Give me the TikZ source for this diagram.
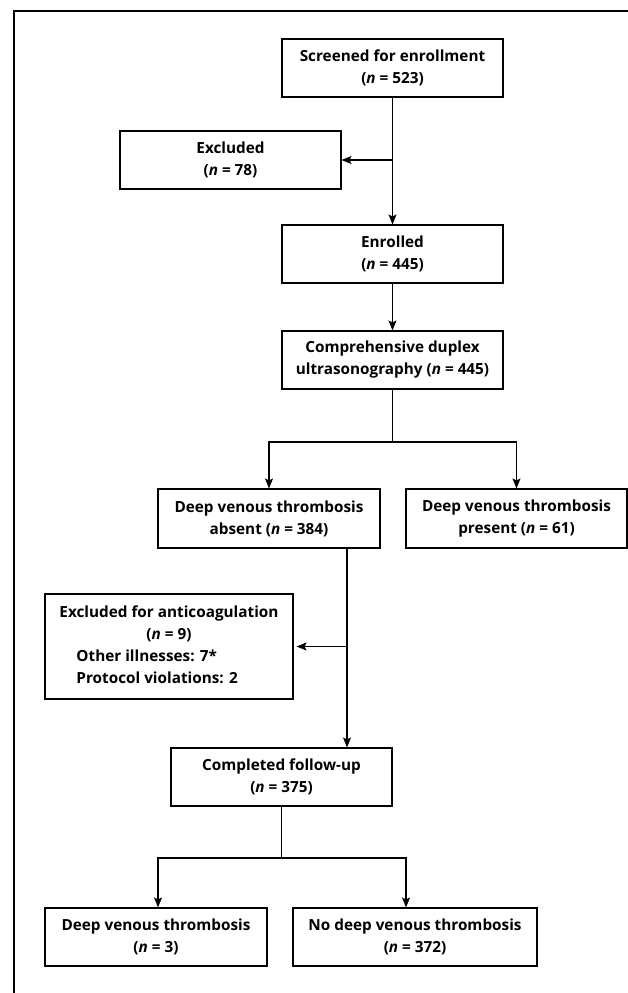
\documentclass[tikz,border=0pt]{standalone}
\usepackage{fontspec}
\setmainfont{Open Sans}
\usetikzlibrary{arrows.meta}
\begin{document}
\begin{tikzpicture}[x=1pt,y=-1pt,
  box/.style={draw, line width=1.1pt, minimum width=221pt, minimum height=58pt,
    inner sep=0pt, align=center, font=\fontsize{15.3}{22}\selectfont\bfseries},
  arr/.style={line width=1.1pt, -{Stealth[length=10pt,width=8pt,inset=2pt]}},
  ln/.style={line width=1.1pt}]
\useasboundingbox (0,0) rectangle (628,993);
\draw[ln] (14,993) -- (14,11) -- (628,11);
\node[box] (scr) at (392.5,68) {Screened for enrollment\\(\textit{n} = 523)};
\node[box] (exc) at (230.5,160) {Excluded\\(\textit{n} = 78)};
\node[box] (enr) at (392.5,254) {Enrolled\\(\textit{n} = 445)};
\node[box] (comp) at (392.5,360) {Comprehensive duplex\\ultrasonography (\textit{n} = 445)};
\node[box, minimum width=222pt, minimum height=59pt] (abs) at (269,518.5) {Deep venous thrombosis\\absent (\textit{n} = 384)};
\node[box, minimum height=59pt] (pres) at (516.5,518.5) {Deep venous thrombosis\\present (\textit{n} = 61)};
\node[box, minimum width=248pt, minimum height=105pt] (anti) at (169,646.5)
  {\begin{tabular}{@{}l@{}}
   \multicolumn{1}{@{}c@{}}{Excluded for anticoagulation}\\
   \multicolumn{1}{@{}c@{}}{(\textit{n} = 9)}\\
   \hspace*{17pt}Other illnesses: 7*\\
   \hspace*{17pt}Protocol violations: 2
   \end{tabular}};
\node[box] (fu) at (281.5,777) {Completed follow-up\\(\textit{n} = 375)};
\node[box, minimum width=222pt] (dvt) at (156,937) {Deep venous thrombosis\\(\textit{n} = 3)};
\node[box, minimum width=244pt] (nodvt) at (415,937) {No deep venous thrombosis\\(\textit{n} = 372)};
% connectors
\draw[arr] (scr) -- (enr);
\draw[arr] (scr.south |- exc.east) -- (exc.east);
\draw[arr] (enr) -- (comp);
\coordinate (b1) at (392.5,442);
\draw[ln] (comp.south) -- (b1);
\draw[arr] (b1) -| (abs.north);
\draw[arr] (b1) -| (pres.north);
\coordinate (v) at (347,0);
\draw[arr] (abs.south -| v) -- (fu.north -| v);
\draw[arr, shorten >=3pt] (anti.east -| v) -- (anti.east);
\coordinate (b2) at (281.5,858);
\coordinate (l2) at (158,0);
\coordinate (r2) at (406,0);
\draw[ln] (fu.south) -- (b2);
\draw[arr] (b2) -| (l2 |- dvt.north);
\draw[arr] (b2) -| (r2 |- nodvt.north);
\end{tikzpicture}
\end{document}
